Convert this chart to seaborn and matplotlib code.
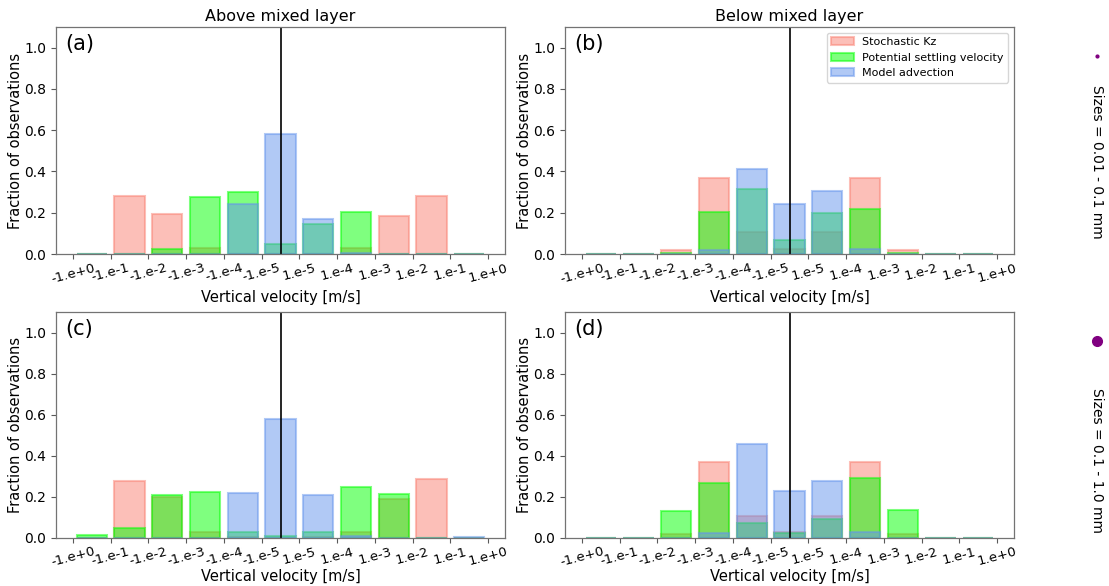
import matplotlib
matplotlib.use("Agg")
import matplotlib.pyplot as plt
from matplotlib.patches import Patch
from matplotlib.lines import Line2D
import numpy as np
import pandas as pd
import seaborn as sns

# Bin edges of the vertical-velocity histogram (m/s)
edge_labels = ["-1.e+0", "-1.e-1", "-1.e-2", "-1.e-3", "-1.e-4", "-1.e-5",
               "1.e-5", "1.e-4", "1.e-3", "1.e-2", "1.e-1", "1.e+0"]

series_names = ["Stochastic Kz", "Potential settling velocity", "Model advection"]
series_colors = ["salmon", "lime", "cornflowerblue"]

# Fraction of observations per bin, small particles (0.01 - 0.1 mm)
small_above_kz = [0.0, 0.280, 0.193, 0.029, 0.0, 0.0, 0.0, 0.029, 0.184, 0.282, 0.0]
small_above_ws = [0.0, 0.0, 0.026, 0.277, 0.300, 0.048, 0.147, 0.203, 0.0, 0.0, 0.0]
small_above_adv = [0.0, 0.0, 0.0, 0.0, 0.243, 0.580, 0.172, 0.004, 0.0, 0.0, 0.0]

small_below_kz = [0.0, 0.0, 0.018, 0.367, 0.108, 0.026, 0.108, 0.367, 0.018, 0.0, 0.0]
small_below_ws = [0.0, 0.0, 0.003, 0.203, 0.316, 0.066, 0.200, 0.219, 0.003, 0.0, 0.0]
small_below_adv = [0.0, 0.0, 0.0, 0.018, 0.414, 0.243, 0.304, 0.026, 0.0, 0.0, 0.0]

# Fraction of observations per bin, large particles (0.1 - 1.0 mm)
large_above_kz = [0.0, 0.275, 0.198, 0.029, 0.003, 0.0, 0.003, 0.029, 0.190, 0.285, 0.0]
large_above_ws = [0.011, 0.047, 0.205, 0.221, 0.029, 0.006, 0.029, 0.244, 0.213, 0.0, 0.0]
large_above_adv = [0.0, 0.0, 0.0, 0.0, 0.218, 0.579, 0.205, 0.005, 0.0, 0.0, 0.002]

large_below_kz = [0.0, 0.0, 0.016, 0.369, 0.106, 0.026, 0.106, 0.366, 0.016, 0.0, 0.0]
large_below_ws = [0.0, 0.0, 0.128, 0.268, 0.073, 0.021, 0.091, 0.291, 0.135, 0.0, 0.0]
large_below_adv = [0.0, 0.0, 0.0, 0.021, 0.457, 0.229, 0.276, 0.029, 0.0, 0.0, 0.0]

panels = [
    ("(a)", "Above mixed layer", [small_above_kz, small_above_ws, small_above_adv]),
    ("(b)", "Below mixed layer", [small_below_kz, small_below_ws, small_below_adv]),
    ("(c)", None, [large_above_kz, large_above_ws, large_above_adv]),
    ("(d)", None, [large_below_kz, large_below_ws, large_below_adv]),
]

W, H = 1109, 586
fig = plt.figure(figsize=(W / 100, H / 100), dpi=100)

# axes boxes in pixels: left, top, right, bottom
boxes = [(56, 27, 505, 254), (565, 27, 1014, 254),
         (56, 312, 505, 537.5), (565, 312, 1014, 537.5)]

n_edges = len(edge_labels)
centers = np.arange(n_edges - 1) + 0.5

for i, ((tag, title, values), (l, t, r, b)) in enumerate(zip(panels, boxes)):
    ax = fig.add_axes([l / W, 1 - b / H, (r - l) / W, (b - t) / H])
    for vals, color in zip(values, series_colors):
        df = pd.DataFrame({"bin": centers, "fraction": vals})
        sns.barplot(data=df, x="bin", y="fraction", native_scale=True,
                    orient="x", errorbar=None, color=color, saturation=1,
                    alpha=0.5, edgecolor=color, linewidth=1.5, width=0.8,
                    ax=ax)
    ax.axvline((n_edges - 1) / 2, color="black", linewidth=1.2)
    ax.set_xlim(-0.45, n_edges - 1 + 0.45)
    ax.set_ylim(0, 1.1)
    ax.set_xticks(np.arange(n_edges))
    ax.set_xticklabels(edge_labels, rotation=15, fontsize=9.5)
    ax.set_yticks(np.arange(0, 1.01, 0.2))
    ax.set_yticklabels([f"{v:.1f}" for v in np.arange(0, 1.01, 0.2)], fontsize=10)
    ax.set_xlabel("Vertical velocity [m/s]", fontsize=10.5,
                  labelpad=3 if i < 2 else 0)
    ax.set_ylabel("Fraction of observations", fontsize=10.5, labelpad=1)
    for s in ax.spines.values():
        s.set_color("0.45")
        s.set_linewidth(0.9)
    ax.tick_params(color="0.35", length=3.5)
    ax.tick_params(axis="x", pad=2)
    ax.text(0.02, 0.97, tag, transform=ax.transAxes, ha="left", va="top",
            fontsize=15)
    if title:
        ax.set_title(title, fontsize=11.5, pad=4)
    if tag == "(b)":
        handles = [Patch(facecolor=c, edgecolor=c, alpha=0.5, linewidth=1.5)
                   for c in series_colors]
        ax.legend(handles, series_names, loc="upper right", fontsize=8,
                  framealpha=0.8)

# size-class annotations on the right margin
fig.add_artist(Line2D([1097 / W], [1 - 56 / H], transform=fig.transFigure,
                      marker="o", markersize=2, color="purple", linestyle="none"))
fig.text(1097 / W, 1 - 162 / H, "Sizes = 0.01 - 0.1 mm", rotation=270,
         ha="center", va="center", fontsize=10)
fig.add_artist(Line2D([1097 / W], [1 - 341 / H], transform=fig.transFigure,
                      marker="o", markersize=7, color="purple", linestyle="none"))
fig.text(1097 / W, 1 - 460 / H, "Sizes = 0.1 - 1.0 mm", rotation=270,
         ha="center", va="center", fontsize=10)

fig.savefig("out.png", dpi=100)
